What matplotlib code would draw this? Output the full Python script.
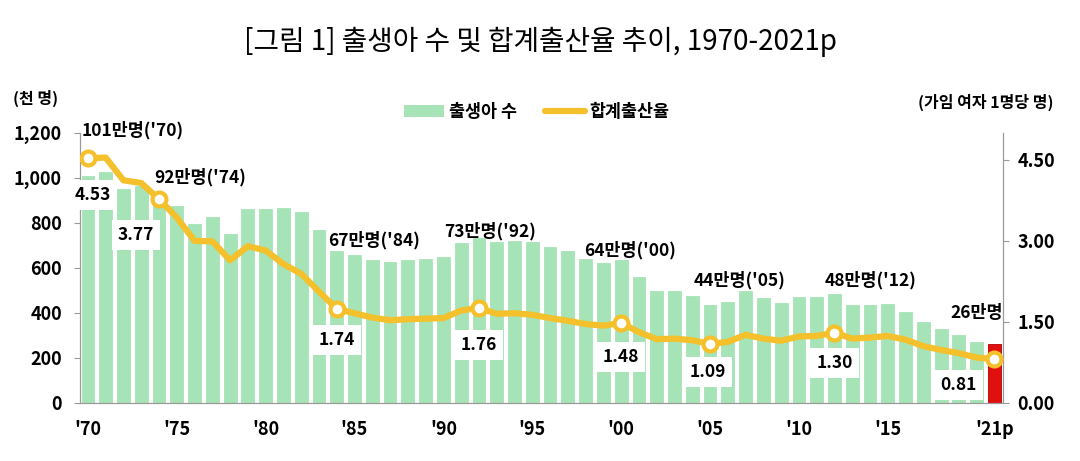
import matplotlib
matplotlib.use("Agg")
import matplotlib.pyplot as plt
from matplotlib.patches import Patch
from matplotlib.lines import Line2D

plt.rcParams['font.family'] = ['Noto Sans CJK KR', 'DejaVu Sans']

# 연도, 출생아 수(천 명), 합계출산율
years = list(range(1970, 2022))
births = [1007, 1025, 952, 965, 922, 875, 796, 825, 750, 863,
          863, 867, 848, 769, 675, 655, 636, 624, 633, 639,
          650, 709, 731, 716, 721, 715, 691, 675, 641, 621,
          635, 560, 497, 495, 476, 435, 448, 497, 466, 445,
          470, 471, 485, 437, 435, 438, 406, 358, 327, 303,
          272, 260]
tfr = [4.53, 4.54, 4.12, 4.07, 3.77, 3.43, 3.00, 2.99, 2.64, 2.90,
       2.82, 2.57, 2.39, 2.06, 1.74, 1.66, 1.58, 1.53, 1.55, 1.56,
       1.57, 1.71, 1.76, 1.65, 1.66, 1.63, 1.57, 1.52, 1.46, 1.43,
       1.48, 1.31, 1.18, 1.19, 1.16, 1.09, 1.13, 1.26, 1.19, 1.15,
       1.23, 1.24, 1.30, 1.19, 1.21, 1.24, 1.17, 1.05, 0.98, 0.92,
       0.84, 0.81]

xtick_years = [1970, 1975, 1980, 1985, 1990, 1995, 2000, 2005, 2010, 2015, 2021]
xtick_labels = ["'70", "'75", "'80", "'85", "'90", "'95", "'00", "'05", "'10", "'15", "'21p"]

# 강조 연도와 라벨
mark_years = [1970, 1974, 1984, 1992, 2000, 2005, 2012, 2021]
birth_labels = ["101만명('70)", "92만명('74)", "67만명('84)", "73만명('92)",
                "64만명('00)", "44만명('05)", "48만명('12)", "26만명"]
birth_offsets = [(45, 46), (41, 18), (37, 11), (11, 7), (9, 10), (30, 25), (36, 14), (-18, 31)]
tfr_offsets = [(5, -37), (-23, -36), (0, -31), (0, -37), (0, -34), (-2, -28), (0, -30), (-36, -26)]

bar_color = '#A6E3B7'
last_color = '#E0100F'
line_color = '#F4C02B'
axis_color = '#9A9A9A'

fig = plt.figure(figsize=(10.8, 4.61), dpi=100)
ax = fig.add_axes([0.074, 0.126, 0.855, 0.586])
ax2 = ax.twinx()

colors = [bar_color] * (len(years) - 1) + [last_color]
edges = [bar_color] * (len(years) - 1) + ['#B00000']
ax.bar(years, births, width=0.72, color=colors, edgecolor=edges, linewidth=0.6, zorder=2)
ax.set_xlim(1969.55, 2021.5)
ax.set_ylim(0, 1200)
ax.set_yticks(range(0, 1201, 200))
ax.set_yticklabels([f"{v:,}" for v in range(0, 1201, 200)])
ax.set_xticks(xtick_years)
ax.set_xticklabels(xtick_labels)

ax2.plot(years, tfr, color=line_color, lw=4.5, solid_joinstyle='round', solid_capstyle='round', zorder=3)
mark_tfr = [tfr[years.index(y)] for y in mark_years]
ax2.plot(mark_years, mark_tfr, 'o', ms=10, mfc='white', mec=line_color, mew=3, zorder=4)
ax2.set_ylim(0, 5.0)
ax2.set_yticks([0, 1.5, 3.0, 4.5])
ax2.set_yticklabels([f"{v:.2f}" for v in [0, 1.5, 3.0, 4.5]])

for a in (ax, ax2):
    for s in a.spines.values():
        s.set_color(axis_color)
    a.spines['top'].set_visible(False)
    a.tick_params(labelsize=13, length=4, color=axis_color, pad=6)
    for lab in a.get_yticklabels() + a.get_xticklabels():
        lab.set_fontweight('bold')
ax.tick_params(axis='y', pad=9)
ax.tick_params(axis='x', length=0, pad=12)

# 라벨
for y, lab, off in zip(mark_years, birth_labels, birth_offsets):
    b = births[years.index(y)]
    ax.annotate(lab, (y, b), xytext=off, textcoords='offset pixels',
                ha='center', va='center', fontsize=12.5, fontweight='bold', zorder=5)
for y, t, off in zip(mark_years, mark_tfr, tfr_offsets):
    ax2.annotate(f"{t:.2f}", (y, t), xytext=off, textcoords='offset pixels',
                 ha='center', va='center', fontsize=12.5, fontweight='bold', zorder=5,
                 bbox=dict(boxstyle='square,pad=0.35', fc='white', ec='none'))

fig.text(0.5, 0.91, "[그림 1] 출생아 수 및 합계출산율 추이, 1970-2021p",
         ha='center', va='center', fontsize=20, fontweight='medium')
fig.text(0.012, 0.787, "(천 명)", ha='left', va='center', fontsize=11.5, fontweight='bold')
fig.text(0.975, 0.777, "(가임 여자 1명당 명)", ha='right', va='center', fontsize=11.5, fontweight='bold')

handles = [Patch(facecolor=bar_color, edgecolor='none'),
           Line2D([0], [0], color=line_color, lw=4.5, solid_capstyle='round')]
fig.legend(handles, ["출생아 수", "합계출산율"], loc='center', bbox_to_anchor=(0.497, 0.757),
           ncol=2, frameon=False, handlelength=2.3, handletextpad=0.3,
           columnspacing=1.6, prop={'weight': 'bold', 'size': 12.5})

fig.savefig("out.png", dpi=100)
